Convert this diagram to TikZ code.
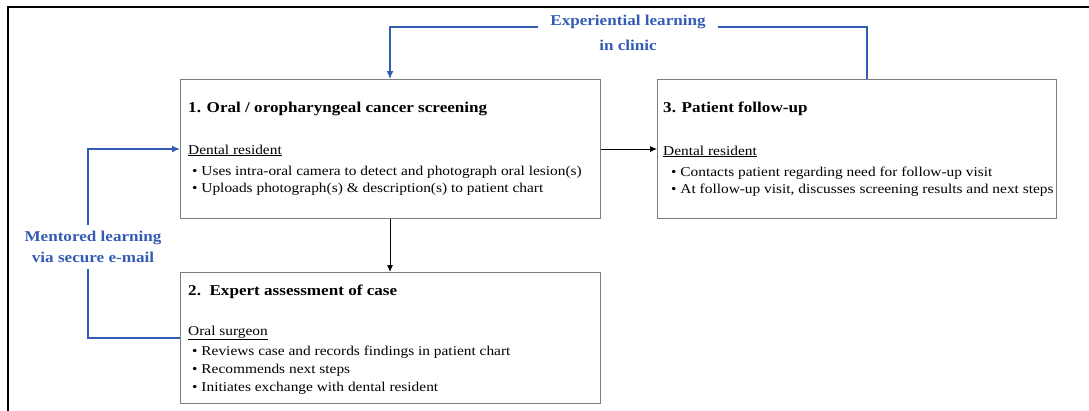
\documentclass[tikz,border=0pt]{standalone}
\usepackage{fontspec}
\setmainfont{Liberation Serif}[FakeStretch=1.14]
\usetikzlibrary{arrows.meta}
\definecolor{myblue}{RGB}{52,92,180}
\definecolor{boxgray}{RGB}{125,125,125}
\tikzset{
  stagebox/.style={draw=boxgray, line width=1.2pt, inner sep=0pt, anchor=north west, fill=white},
  titletext/.style={anchor=base west, inner sep=0pt, font=\fontsize{15}{18}\selectfont\bfseries},
  bodytext/.style={anchor=base west, inner sep=0pt, font=\fontsize{13.5}{16}\selectfont},
  bluelabel/.style={text=myblue, align=center, font=\fontsize{15}{20.5}\selectfont\bfseries},
  blueline/.style={draw=myblue, line width=1.3pt},
  bluearrow/.style={blueline, -{Latex[length=8pt,width=7pt]}},
  blackarrow/.style={draw=black, line width=1pt, -{Latex[length=7pt,width=6pt]}},
}
\begin{document}
\begin{tikzpicture}[x=1pt,y=-1pt]
\useasboundingbox (0,0) rectangle (1089,410);
% outer frame
\draw[line width=1.8pt] (8,412) -- (8,7) -- (1092,7);

% boxes
\node[stagebox, minimum width=420pt, minimum height=139pt] (b1) at (180,79) {};
\node[stagebox, minimum width=399pt, minimum height=139pt] (b3) at (657,79) {};
\node[stagebox, minimum width=420pt, minimum height=131pt] (b2) at (180,272) {};

% box 1 text
\node[titletext] (t1) at (188,112) {1. Oral / oropharyngeal cancer screening};
\node[bodytext] (r1) at (188,154) {\underline{Dental resident}};
\node[bodytext] (r1a) at (192,175) {• Uses intra-oral camera to detect and photograph oral lesion(s)};
\node[bodytext] (r1b) at (192,192) {• Uploads photograph(s) \& description(s) to patient chart};

% box 3 text
\node[titletext] (t3) at (663,112) {3. Patient follow-up};
\node[bodytext] (r3) at (663,155) {\underline{Dental resident}};
\node[bodytext] (r3a) at (671,176) {• Contacts patient regarding need for follow-up visit};
\node[bodytext] (r3b) at (671,193) {• At follow-up visit, discusses screening results and next steps};

% box 2 text
\node[titletext] (t2) at (188,295) {2.\ \ Expert assessment of case};
\node[bodytext] (r2) at (188,335) {\underline{Oral surgeon}};
\node[bodytext] (r2a) at (192,355) {• Reviews case and records findings in patient chart};
\node[bodytext] (r2b) at (192,373) {• Recommends next steps};
\node[bodytext] (r2c) at (192,391) {• Initiates exchange with dental resident};

% blue labels
\node[bluelabel, inner xsep=12pt, inner ysep=0pt] (exp) at (628,22) {Experiential learning};
\node[bluelabel, inner sep=0pt] (exp2) at (628,45) {in clinic};
\node[bluelabel, inner xsep=2pt, inner ysep=6pt] (ment) at (93,247) {Mentored learning\\via secure e-mail};

% connector corners
\coordinate (er) at (867,27);
\coordinate (el) at (390,27);
\coordinate (mt) at (88,149);
\coordinate (mb) at (88,338);

% experiential loop
\draw[blueline] (b3.north -| er) -- (er) -- (er -| exp.east);
\draw[bluearrow] (el -| exp.west) -- (el) -- (b1.north -| el);

% mentored loop
\draw[blueline] (b2.west |- mb) -- (mb) -- (mb |- ment.south);
\draw[bluearrow] (mt |- ment.north) -- (mt) -- (b1.west |- mt);

% black arrows
\draw[blackarrow] (b1.east |- mt) -- (b3.west |- mt);
\draw[blackarrow] (b1.south -| el) -- (b2.north -| el);
\end{tikzpicture}
\end{document}
